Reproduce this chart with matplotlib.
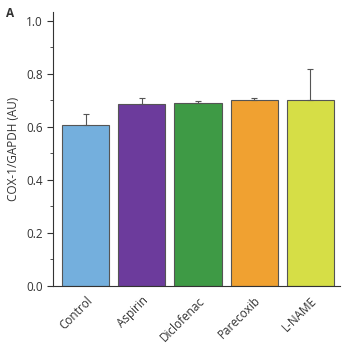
import matplotlib
matplotlib.use("Agg")
import matplotlib.pyplot as plt
from matplotlib.ticker import MultipleLocator

groups = ["Control", "Aspirin", "Diclofenac", "Parecoxib", "L-NAME"]
means = [0.607, 0.688, 0.692, 0.700, 0.700]
errs = [0.043, 0.022, 0.006, 0.010, 0.117]
colors = ["#74afdd", "#6c3b9c", "#3e9a45", "#f0a131", "#d6de46"]

plt.rcParams["font.family"] = ["Open Sans", "DejaVu Sans"]

fig = plt.figure(figsize=(3.52, 3.5), dpi=100)
ax = fig.add_axes([0.151, 0.183, 0.815, 0.783])

x = range(len(groups))
ax.bar(x, means, width=0.84, color=colors, edgecolor="#555555", linewidth=0.8,
       yerr=[[0] * len(errs), errs], error_kw=dict(ecolor="#555555", elinewidth=0.8,
                                                  capsize=2.5, capthick=0.8))

ax.set_xlim(-0.58, 4.53)
ax.set_ylim(0, 1.034)
ax.yaxis.set_major_locator(MultipleLocator(0.2))
ax.yaxis.set_minor_locator(MultipleLocator(0.1))
ax.set_yticklabels([f"{v:.1f}" for v in ax.get_yticks()])
ax.set_xticks(list(x))
ax.set_xticklabels(groups, rotation=45, ha="right", rotation_mode="anchor")
ax.tick_params(axis="x", length=0, labelsize=8.5, colors="#333333", pad=6)
ax.tick_params(axis="y", which="major", length=4, labelsize=8.5, colors="#333333")
ax.tick_params(axis="y", which="minor", length=2, color="#333333")
ax.set_ylabel("COX-1/GAPDH (AU)", fontsize=8.5, color="#333333")

for s in ["top", "right"]:
    ax.spines[s].set_visible(False)
for s in ["left", "bottom"]:
    ax.spines[s].set_color("#333333")
    ax.spines[s].set_linewidth(0.8)

fig.text(0.018, 0.962, "A", fontsize=8.5, fontweight="bold", color="#333333", va="center")

fig.savefig("out.png", dpi=100)
